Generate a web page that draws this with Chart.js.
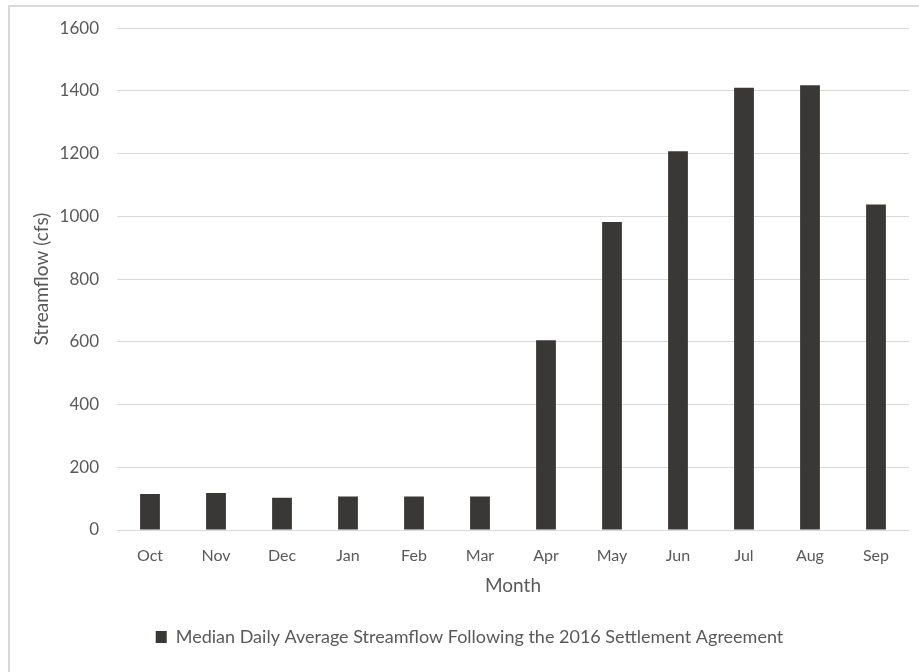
<!DOCTYPE html>
<html>
<head>
<meta charset="utf-8">
<script src="https://cdn.jsdelivr.net/npm/chart.js@4"></script>
<style>
  body { margin: 0; background: #fff; }
  #wrap { position: relative; width: 919px; height: 672px; overflow: hidden; }
  #frame {
    position: absolute; left: 8px; top: 5px; width: 1000px; height: 800px;
    border-left: 2px solid #d9d9d9; border-top: 2px solid #d9d9d9;
    pointer-events: none;
  }
  canvas { position: absolute; left: 0; top: 0; }
</style>
</head>
<body>
<div id="wrap">
  <div id="frame"></div>
  <canvas id="chart" width="919" height="672"></canvas>
</div>
<script>
// Monthly median streamflow, water year order
const months = ['Oct', 'Nov', 'Dec', 'Jan', 'Feb', 'Mar', 'Apr', 'May', 'Jun', 'Jul', 'Aug', 'Sep']
const streamflow = [115, 118, 103, 107, 107, 107, 605, 982, 1208, 1410, 1418, 1038]
const seriesName = 'Median Daily Average Streamflow Following the 2016 Settlement Agreement'

const textColor = '#595959'
const gridColor = '#d9d9d9'
const fontFamily = 'Lato, "Open Sans", sans-serif'

document.addEventListener('DOMContentLoaded', function() {
    const ctx = document.getElementById('chart')
    new Chart(ctx, {
        type: 'bar',
        data: {
            labels: months,
            datasets: [{
                label: seriesName,
                data: streamflow,
                backgroundColor: '#3a3836',
                borderWidth: 0,
                categoryPercentage: 1,
                barPercentage: 0.3
            }]
        },
        options: {
            responsive: false,
            animation: false,
            layout: { padding: { top: 27, right: 10, left: 30, bottom: 16 } },
            plugins: {
                tooltip: { enabled: false },
                legend: {
                    position: 'bottom',
                    labels: {
                        color: textColor,
                        font: { family: fontFamily, size: 18 },
                        boxWidth: 11,
                        boxHeight: 12,
                        padding: 10
                    }
                }
            },
            scales: {
                x: {
                    grid: { display: false },
                    border: { display: false },
                    ticks: { color: textColor, font: { family: fontFamily, size: 16 }, padding: 8 },
                    title: {
                        display: true, text: 'Month', color: textColor,
                        font: { family: fontFamily, size: 19 }, padding: { top: 4, bottom: 21 }
                    },
                    afterFit: function(scale) { scale.height = 88 }
                },
                y: {
                    min: 0,
                    max: 1600,
                    ticks: {
                        stepSize: 200, color: textColor, font: { family: fontFamily, size: 17 }, padding: 18,
                        callback: function(value) { return String(value) }
                    },
                    grid: { color: gridColor, lineWidth: 1, drawTicks: false },
                    border: { display: false },
                    title: {
                        display: true, text: 'Streamflow (cfs)', color: textColor,
                        font: { family: fontFamily, size: 19 }, padding: { top: 0, bottom: 4 }
                    },
                    afterFit: function(scale) { scale.width = 87 }
                }
            }
        }
    })
})
</script>
</body>
</html>
